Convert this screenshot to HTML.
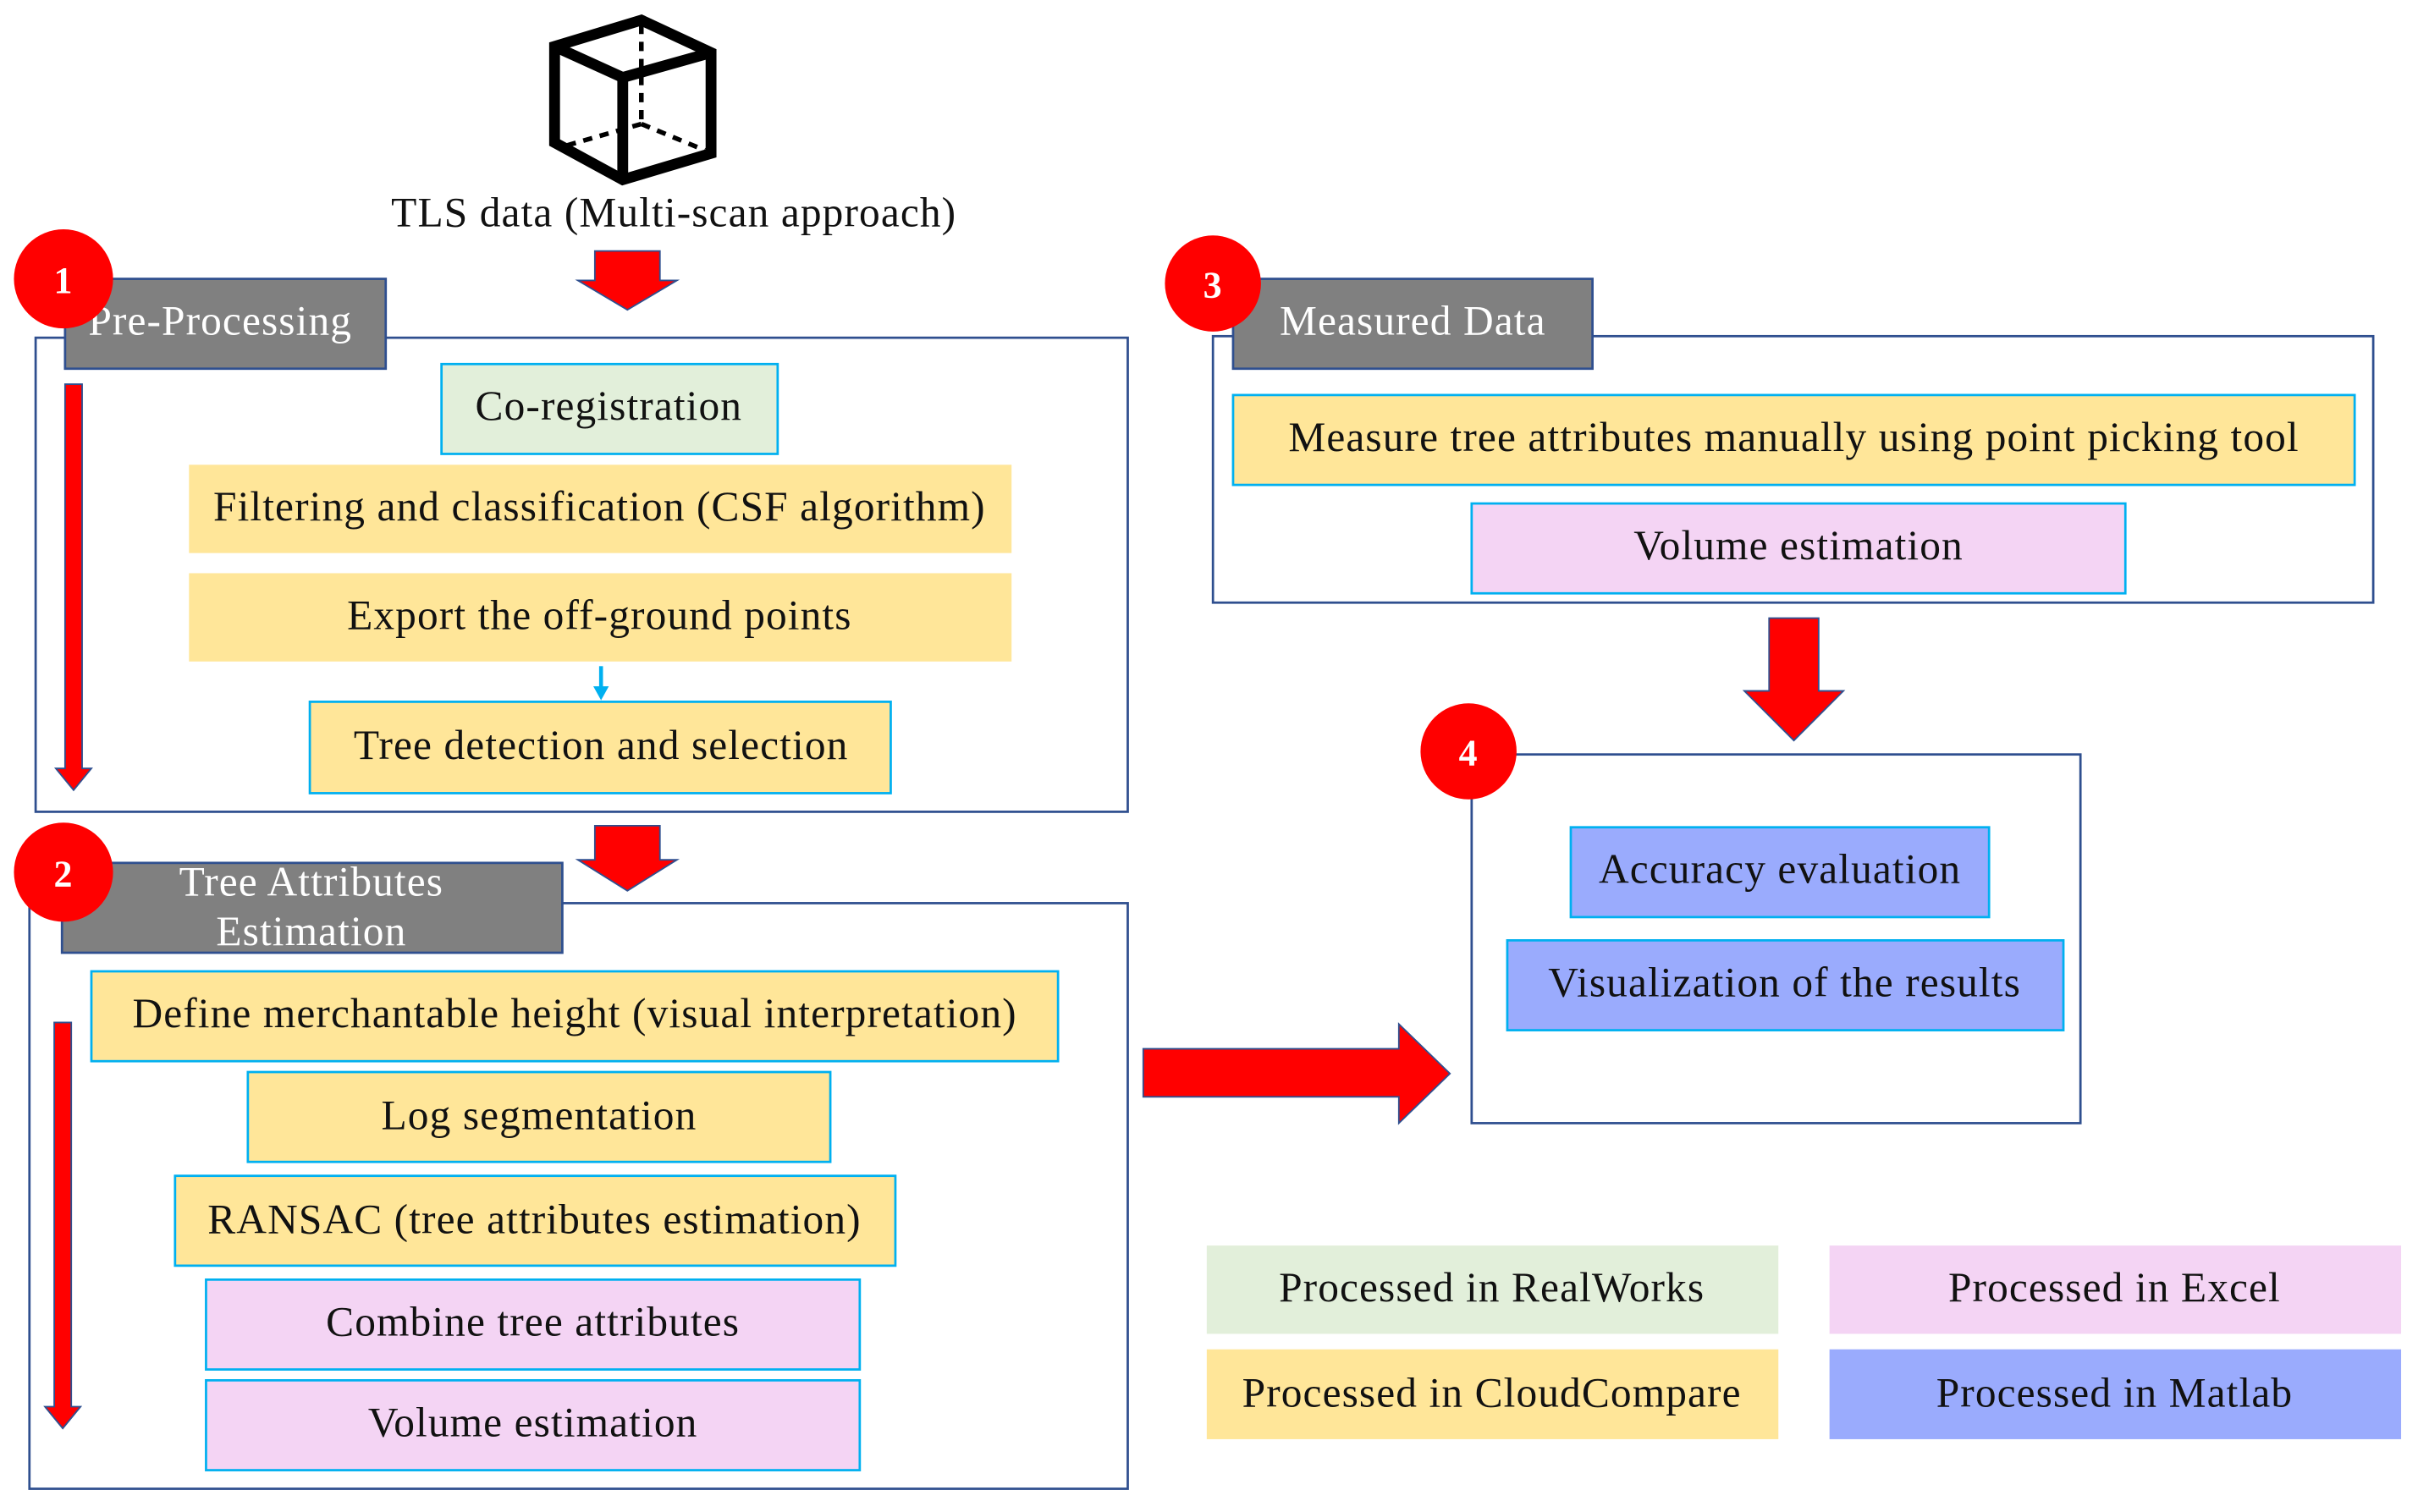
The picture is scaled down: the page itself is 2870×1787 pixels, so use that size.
<!DOCTYPE html>
<html><head><meta charset="utf-8"><style>
html,body{margin:0;padding:0;background:#fff}
svg{display:block}
text{font-family:"Liberation Serif",serif;font-size:27px;letter-spacing:0.6px;fill:#111}
</style></head><body>
<svg width="2870" height="1787" viewBox="0 0 1568 976" preserveAspectRatio="none" xmlns="http://www.w3.org/2000/svg">
<!-- cube -->
<g fill="none" stroke="#000" stroke-width="7" stroke-linejoin="miter">
<polygon points="358,30 414,13 459,34 459,99 402,116 358,92"/>
<polyline points="358,30 402,50 459,34"/>
<line x1="402" y1="50" x2="402" y2="116"/>
</g>
<g fill="none" stroke="#000" stroke-width="3" stroke-dasharray="6,5">
<line x1="414" y1="16" x2="414" y2="80"/>
<line x1="414" y1="80" x2="362" y2="95"/>
<line x1="414" y1="80" x2="455" y2="97"/>
</g>
<text x="435" y="146" text-anchor="middle">TLS data (Multi-scan  approach)</text>
<polygon points="384,162 426,162 426,181 437,181 405,200 373,181 384,181" fill="#f00" stroke="#2f4f8f" stroke-width="1"/>
<!-- box 1 -->
<rect x="23" y="218" width="705" height="306" fill="#fff" stroke="#2f4f8f" stroke-width="1.5"/>
<rect x="42" y="180" width="207" height="58" fill="#808080" stroke="#2f4f8f" stroke-width="1.5"/>
<text x="57" y="216" style="fill:#fff">Pre-Processing</text>
<circle cx="41" cy="180" r="32" fill="#f00"/>
<text x="41" y="189" text-anchor="middle" style="fill:#fff;font-weight:bold;font-size:24px">1</text>
<polygon points="42,248 53,248 53,496 59,496 47.5,510 36,496 42,496" fill="#f00" stroke="#2f4f8f" stroke-width="1"/>
<rect x="285" y="235" width="217" height="58" fill="#e2efda" stroke="#00b0f0" stroke-width="1.5"/>
<text x="393" y="271" text-anchor="middle">Co-registration</text>
<rect x="122" y="300" width="531" height="57" fill="#ffe699"/>
<text x="387" y="336" text-anchor="middle">Filtering and classification  (CSF algorithm)</text>
<rect x="122" y="370" width="531" height="57" fill="#ffe699"/>
<text x="387" y="406" text-anchor="middle">Export the off-ground  points</text>
<line x1="388" y1="430" x2="388" y2="444" stroke="#00b0f0" stroke-width="2.5"/>
<polygon points="383,443 393,443 388,452" fill="#00b0f0"/>
<rect x="200" y="453" width="375" height="59" fill="#ffe699" stroke="#00b0f0" stroke-width="1.5"/>
<text x="388" y="490" text-anchor="middle">Tree detection and selection</text>
<polygon points="384,533 426,533 426,555 437,555 405,575 373,555 384,555" fill="#f00" stroke="#2f4f8f" stroke-width="1"/>
<!-- box 2 -->
<rect x="19" y="583" width="709" height="378" fill="#fff" stroke="#2f4f8f" stroke-width="1.5"/>
<rect x="40" y="557" width="323" height="58" fill="#808080" stroke="#2f4f8f" stroke-width="1.5"/>
<text x="201" y="578" text-anchor="middle" style="fill:#fff">Tree Attributes</text>
<text x="201" y="610" text-anchor="middle" style="fill:#fff">Estimation</text>
<circle cx="41" cy="563" r="32" fill="#f00"/>
<text x="41" y="572" text-anchor="middle" style="fill:#fff;font-weight:bold;font-size:24px">2</text>
<polygon points="35,660 46,660 46,908 52,908 40.5,922 29,908 35,908" fill="#f00" stroke="#2f4f8f" stroke-width="1"/>
<rect x="59" y="627" width="624" height="58" fill="#ffe699" stroke="#00b0f0" stroke-width="1.5"/>
<text x="371" y="663" text-anchor="middle">Define merchantable height (visual interpretation)</text>
<rect x="160" y="692" width="376" height="58" fill="#ffe699" stroke="#00b0f0" stroke-width="1.5"/>
<text x="348" y="729" text-anchor="middle">Log segmentation</text>
<rect x="113" y="759" width="465" height="58" fill="#ffe699" stroke="#00b0f0" stroke-width="1.5"/>
<text x="345" y="796" text-anchor="middle">RANSAC (tree attributes estimation)</text>
<rect x="133" y="826" width="422" height="58" fill="#f4d4f4" stroke="#00b0f0" stroke-width="1.5"/>
<text x="344" y="862" text-anchor="middle">Combine tree attributes</text>
<rect x="133" y="891" width="422" height="58" fill="#f4d4f4" stroke="#00b0f0" stroke-width="1.5"/>
<text x="344" y="927" text-anchor="middle">Volume estimation</text>
<polygon points="738,677 903,677 903,661 936,693 903,725 903,708 738,708" fill="#f00" stroke="#2f4f8f" stroke-width="1"/>
<!-- box 3 -->
<rect x="783" y="217" width="749" height="172" fill="#fff" stroke="#2f4f8f" stroke-width="1.5"/>
<rect x="796" y="180" width="232" height="58" fill="#808080" stroke="#2f4f8f" stroke-width="1.5"/>
<text x="912" y="216" text-anchor="middle" style="fill:#fff">Measured Data</text>
<circle cx="783" cy="183" r="31" fill="#f00"/>
<text x="783" y="192" text-anchor="middle" style="fill:#fff;font-weight:bold;font-size:24px">3</text>
<rect x="796" y="255" width="724" height="58" fill="#ffe699" stroke="#00b0f0" stroke-width="1.5"/>
<text x="1158" y="291" text-anchor="middle">Measure tree attributes manually using point picking  tool</text>
<rect x="950" y="325" width="422" height="58" fill="#f4d4f4" stroke="#00b0f0" stroke-width="1.5"/>
<text x="1161" y="361" text-anchor="middle">Volume estimation</text>
<polygon points="1142,399 1174,399 1174,446 1190,446 1158,478 1126,446 1142,446" fill="#f00" stroke="#2f4f8f" stroke-width="1"/>
<!-- box 4 -->
<rect x="950" y="487" width="393" height="238" fill="#fff" stroke="#2f4f8f" stroke-width="1.5"/>
<circle cx="948" cy="485" r="31" fill="#f00"/>
<text x="948" y="494" text-anchor="middle" style="fill:#fff;font-weight:bold;font-size:24px">4</text>
<rect x="1014" y="534" width="270" height="58" fill="#9aabfd" stroke="#00b0f0" stroke-width="1.5"/>
<text x="1149" y="570" text-anchor="middle">Accuracy evaluation</text>
<rect x="973" y="607" width="359" height="58" fill="#9aabfd" stroke="#00b0f0" stroke-width="1.5"/>
<text x="1152" y="643" text-anchor="middle">Visualization of the results</text>
<!-- legend -->
<rect x="779" y="804" width="369" height="57" fill="#e2efda"/>
<text x="963" y="840" text-anchor="middle">Processed in RealWorks</text>
<rect x="1181" y="804" width="369" height="57" fill="#f4d4f4"/>
<text x="1365" y="840" text-anchor="middle">Processed in Excel</text>
<rect x="779" y="871" width="369" height="58" fill="#ffe699"/>
<text x="963" y="908" text-anchor="middle">Processed in CloudCompare</text>
<rect x="1181" y="871" width="369" height="58" fill="#9aabfd"/>
<text x="1365" y="908" text-anchor="middle">Processed in Matlab</text>
</svg>
</body></html>
